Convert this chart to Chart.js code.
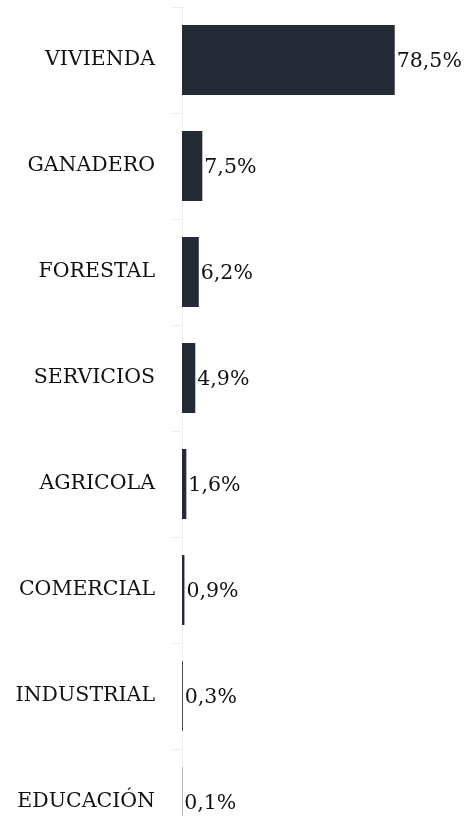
<!DOCTYPE html>
<html>
<head>
<meta charset="utf-8">
<script src="https://cdn.jsdelivr.net/npm/chart.js@4.4.1/dist/chart.umd.min.js"></script>
<style>
html,body{margin:0;padding:0;background:#fff;overflow:hidden;width:469px;height:816px;}
#wrap{width:469px;height:816px;position:relative;overflow:hidden;}
#c{position:absolute;left:0;top:0;}
</style>
</head>
<body>
<div id="wrap"><canvas id="c" width="469" height="860" style="width:469px;height:860px"></canvas></div>
<script>
const categories = ['VIVIENDA','GANADERO','FORESTAL','SERVICIOS','AGRICOLA','COMERCIAL','INDUSTRIAL','EDUCACIÓN'];
const values = [78.5, 7.5, 6.2, 4.9, 1.6, 0.9, 0.3, 0.1];
const valueLabels = ['78,5%','7,5%','6,2%','4,9%','1,6%','0,9%','0,3%','0,1%'];

const FONT = {family: '"DejaVu Serif", serif', size: 20.5};

const valuePlugin = {
  id: 'valueLabels',
  afterDatasetsDraw(chart) {
    const ctx = chart.ctx;
    const meta = chart.getDatasetMeta(0);
    ctx.save();
    ctx.font = FONT.size + 'px ' + FONT.family;
    ctx.fillStyle = '#111111';
    ctx.textAlign = 'left';
    ctx.textBaseline = 'middle';
    meta.data.forEach((bar, i) => {
      ctx.fillText(valueLabels[i], bar.x + 2, bar.y + 1.5);
    });
    ctx.restore();
  }
};

new Chart(document.getElementById('c'), {
  type: 'bar',
  data: {
    labels: categories,
    datasets: [{
      data: values,
      backgroundColor: '#252b36',
      borderWidth: 0,
      categoryPercentage: 1,
      barPercentage: 0.66
    }]
  },
  options: {
    indexAxis: 'y',
    responsive: false,
    animation: false,
    layout: {padding: {top: 7, bottom: 5, right: 16, left: 0}},
    plugins: {legend: {display: false}, tooltip: {enabled: false}},
    scales: {
      x: {display: false, min: 0, max: 100},
      y: {
        afterFit(scale) { scale.width = 182; scale.paddingTop = 0; scale.paddingBottom = 0; },
        grid: {display: true, drawOnChartArea: false, drawTicks: true, tickLength: 10, color: '#ececec', offset: true},
        border: {display: true, color: '#eeeeee', width: 1},
        ticks: {font: FONT, color: '#111111', padding: 17}
      }
    }
  },
  plugins: [valuePlugin]
});
</script>
</body>
</html>
